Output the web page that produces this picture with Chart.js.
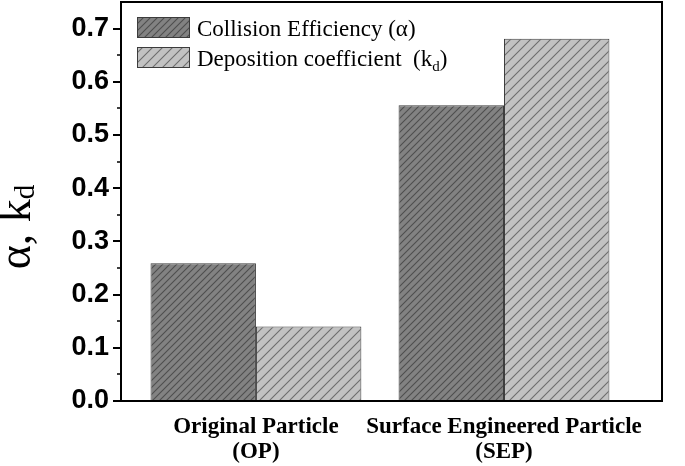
<!DOCTYPE html>
<html>
<head>
<meta charset="utf-8">
<script src="https://cdn.jsdelivr.net/npm/chart.js@4.4.1/dist/chart.umd.min.js"></script>
<style>
  html, body { margin: 0; padding: 0; background: #fff; }
  canvas { display: block; }
</style>
</head>
<body>
<canvas id="chart" width="685" height="466"></canvas>
<script>
// data
const categories = [['Original Particle', '(OP)'], ['Surface Engineered Particle', '(SEP)']];
const collisionEfficiency = [0.259, 0.556];
const depositionCoefficient = [0.140, 0.681];
const seriesLabels = ['Collision Efficiency (α)', 'Deposition coefficient  (kd)'];

function hatch(bg, line, gap) {
    const c = document.createElement('canvas');
    c.width = gap;
    c.height = gap;
    const g = c.getContext('2d');
    g.fillStyle = bg;
    g.fillRect(0, 0, gap, gap);
    g.strokeStyle = line;
    g.lineWidth = 1.1;
    g.beginPath();
    g.moveTo(0, gap); g.lineTo(gap, 0);
    g.moveTo(-1, 1); g.lineTo(1, -1);
    g.moveTo(gap - 1, gap + 1); g.lineTo(gap + 1, gap - 1);
    g.stroke();
    return g.createPattern(c, 'repeat');
}

const darkFill = hatch('#828282', '#4e4e4e', 7);
const lightFill = hatch('#c2c2c2', '#6e6e6e', 10);

const framePlugin = {
    id: 'frame',
    afterDraw(chart) {
        const ctx = chart.ctx;
        const a = chart.chartArea;
        const y = chart.scales.y;
        ctx.save();
        ctx.strokeStyle = '#000';
        ctx.lineWidth = 2;
        ctx.strokeRect(a.left, a.top, a.right - a.left, a.bottom - a.top);

        // minor ticks halfway between the labelled ones
        ctx.lineWidth = 1.5;
        ctx.beginPath();
        for (let i = 0; i < 7; i++) {
            const py = Math.round(y.getPixelForValue(i / 10 + 0.05));
            ctx.moveTo(a.left - 4, py);
            ctx.lineTo(a.left, py);
        }
        ctx.stroke();

        // y title: alpha, k with subscript d
        ctx.fillStyle = '#000';
        ctx.translate(30, 227);
        ctx.rotate(-Math.PI / 2);
        ctx.font = '46px "Liberation Serif"';
        const main = 'α, k';
        const wMain = ctx.measureText(main).width;
        ctx.font = '29px "Liberation Serif"';
        const wSub = ctx.measureText('d').width;
        const x0 = -(wMain + wSub) / 2;
        ctx.font = '46px "Liberation Serif"';
        ctx.textBaseline = 'alphabetic';
        ctx.fillText(main, x0, 0);
        ctx.font = '29px "Liberation Serif"';
        ctx.fillText('d', x0 + wMain, 4);
        ctx.restore();

        // legend
        const fills = [darkFill, lightFill];
        ctx.save();
        ctx.textBaseline = 'alphabetic';
        ctx.fillStyle = '#000';
        for (let i = 0; i < 2; i++) {
            const top = 17 + i * 30;
            ctx.fillStyle = fills[i];
            ctx.fillRect(137, top, 52, 20);
            ctx.strokeStyle = '#3c3c3c';
            ctx.lineWidth = 1;
            ctx.strokeRect(137.5, top + 0.5, 52, 20);
            ctx.fillStyle = '#000';
            ctx.font = '23px "Liberation Serif"';
            const base = top + 19;
            if (i === 0) {
                ctx.fillText(seriesLabels[0], 197, base);
            } else {
                const head = 'Deposition coefficient  (k';
                ctx.fillText(head, 197, base);
                let x = 197 + ctx.measureText(head).width;
                ctx.font = '15px "Liberation Serif"';
                ctx.fillText('d', x, base + 5);
                x += ctx.measureText('d').width;
                ctx.font = '23px "Liberation Serif"';
                ctx.fillText(')', x, base);
            }
        }
        ctx.restore();
    }
};

new Chart(document.getElementById('chart'), {
    type: 'bar',
    data: {
        datasets: [
            {
                label: seriesLabels[0],
                data: collisionEfficiency.map((v, i) => ({x: i + 1, y: v})),
                backgroundColor: darkFill,
                borderColor: '#3c3c3c',
                borderWidth: 1,
                barPercentage: 1,
                categoryPercentage: 0.85
            },
            {
                label: seriesLabels[1],
                data: depositionCoefficient.map((v, i) => ({x: i + 1, y: v})),
                backgroundColor: lightFill,
                borderColor: '#3c3c3c',
                borderWidth: 1,
                barPercentage: 1,
                categoryPercentage: 0.85
            }
        ]
    },
    options: {
        responsive: false,
        animation: false,
        layout: {padding: {left: 0, right: 23, top: 2, bottom: 0}},
        plugins: {
            legend: {display: false},
            tooltip: {enabled: false}
        },
        scales: {
            x: {
                type: 'linear',
                min: 0.456,
                max: 2.637,
                offset: false,
                bounds: 'data',
                grid: {display: false, offset: false},
                border: {display: true, color: '#000', width: 2},
                afterBuildTicks: function(scale) {
                    scale.ticks = categories.map((c, i) => ({value: i + 1}));
                },
                afterFit: function(scale) {
                    scale.height = 65;
                    scale.paddingLeft = 0;
                    scale.paddingRight = 0;
                },
                ticks: {
                    autoSkip: false,
                    maxRotation: 0,
                    padding: 5,
                    color: '#000',
                    font: {family: '"Liberation Serif"', size: 23, weight: 'bold', lineHeight: 1.1},
                    callback: function(value) { return categories[Math.round(value) - 1]; }
                }
            },
            y: {
                min: 0,
                max: 0.75,
                border: {display: true, color: '#000', width: 2},
                grid: {drawOnChartArea: false, drawTicks: true, tickLength: 8, color: '#000', lineWidth: 2},
                afterFit: function(scale) {
                    scale.width = 121;
                    scale.paddingTop = 0;
                    scale.paddingBottom = 0;
                },
                ticks: {
                    stepSize: 0.1,
                    includeBounds: false,
                    padding: 4,
                    color: '#000',
                    font: {family: '"Liberation Sans"', size: 27, weight: 'bold'},
                    callback: function(value) { return value.toFixed(1); }
                }
            }
        }
    },
    plugins: [framePlugin]
});
</script>
</body>
</html>
